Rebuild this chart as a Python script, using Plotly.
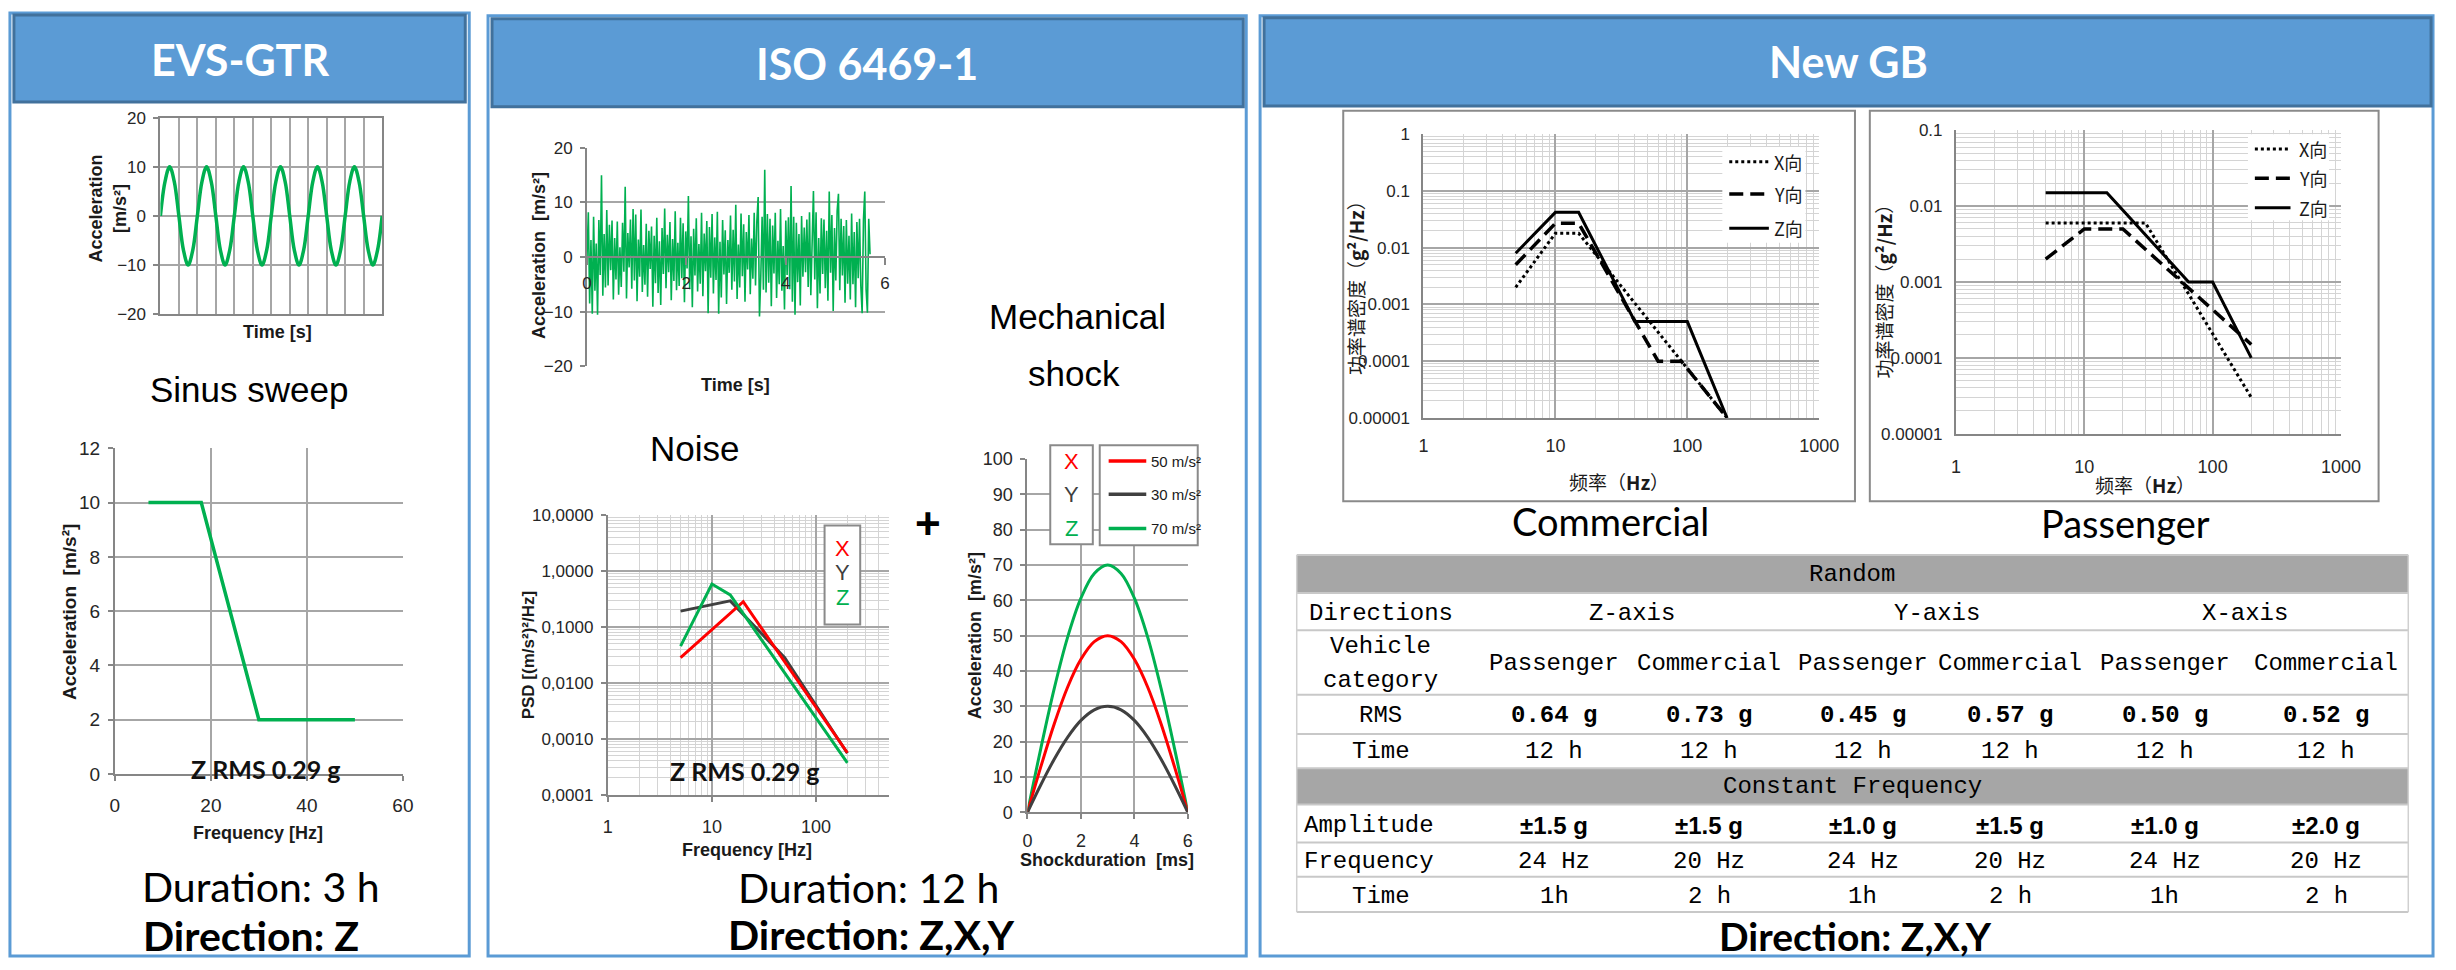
import plotly.graph_objects as go

W, H = 2456, 970


def fx(x):
    return x / W


def fy(y):
    return 1 - y / H


# ---------------- data ----------------
# EVS-GTR: sine time signal, read at eighth-period steps
sine_time = [0, 0.25, 0.5, 0.75, 1, 1.25, 1.5, 1.75, 2, 2.25, 2.5, 2.75, 3, 3.25, 3.5, 3.75,
             4, 4.25, 4.5, 4.75, 5, 5.25, 5.5, 5.75, 6, 6.25, 6.5, 6.75, 7, 7.25, 7.5, 7.75,
             8, 8.25, 8.5, 8.75, 9, 9.25, 9.5, 9.75, 10, 10.25, 10.5, 10.75, 11, 11.25, 11.5, 11.75, 12]
sine_acc = [0, 7, 10, 7, 0, -7, -10, -7, 0, 7, 10, 7, 0, -7, -10, -7,
            0, 7, 10, 7, 0, -7, -10, -7, 0, 7, 10, 7, 0, -7, -10, -7,
            0, 7, 10, 7, 0, -7, -10, -7, 0, 7, 10, 7, 0, -7, -10, -7, 0]

# EVS-GTR: sinus sweep profile
sweep_freq = [7, 18, 30, 50]
sweep_acc = [10, 10, 2, 2]

# ISO 6469-1: noise time signal
noise_acc = [
    0, 8.2, -8.5, 3.1, -10.4, 7.4, -6.2, 2.5, -10.6, 6.8, -3.3, 15.0, -7.1, 4.2, -5.6, 8.6, -5.2, 5.9, -2.4, 6.7, -7.8, 3.5, -4.1, 6.5,
    -6.9, 1.8, -5.5, 6.3, -2.7, 12.9, -7.6, 4.4, -1.9, 6.9, -5.8, 8.8, -4.3, 7.8, -8.1, 3.2, -3.6, 8.7, -6.4, 2.2, -5.1, 6.1, -7.3, 4.8,
    -2.2, 5.6, -9.1, 3.9, -4.8, 7.2, -6.6, 2.9, -8.8, 5.3, -3.1, 8.9, -5.7, 4.1, -2.8, 6.4, -7.9, 3.3, -4.4, 8.4, -6.1, 2.6, -5.3, 7.2,
    -3.9, 6.2, -8.3, 4.7, -2.1, 11.2, -5.9, 3.8, -9.2, 5.2, -3.4, 7.1, -6.3, 2.4, -4.9, 8.1, -7.2, 4.3, -2.6, 6.6, -10.3, 5.5, -3.8, 7.9,
    -6.7, 3.6, -4.2, 8.3, -10.4, 2.8, -7.4, 6.8, -3.2, 4.9, -8.6, 3.1, -2.9, 7.6, -6.0, 5.0, -4.5, 9.6, -7.7, 2.3, -5.6, 8.0, -3.5, 6.0,
    -8.2, 4.6, -2.3, 7.7, -6.8, 3.4, -4.0, 8.1, -5.2, 6.5, 11.0, -10.9, -3.7, 7.4, -6.0, 16.0, -6.5, 7.9, -4.7, 7.0, -9.0, 5.8, -3.0, 8.1,
    -7.5, 3.0, -5.0, 8.8, -6.2, 2.0, -9.6, 6.7, -3.3, 7.3, -5.9, 13.0, -8.2, 7.4, -10.6, 6.3, -4.6, 4.2, -8.9, 7.5, -3.6, 5.4, -2.8, 6.9,
    -5.5, 8.2, -7.0, 4.4, 12.1, -4.1, 8.2, -9.4, 3.5, -6.7, 7.1, -3.1, 6.9, -5.7, 4.8, -8.0, 12.0, -2.9, 7.7, -9.9, 5.3, -4.3, 8.5, 11.6,
    -6.1, 7.0, -3.4, 5.7, -8.4, 6.8, -4.9, 3.9, -7.8, 8.0, -5.0, 4.6, -9.2, 6.4, -3.9, 7.0, -5.3, -10.3, 6.9, 12.0, -6.0, -10.2, 7.0, 0.5,
]
noise_step = 5.7 / 215
noise_time = [i * noise_step for i in range(len(noise_acc))]

# ISO 6469-1: PSD profiles
psd_freq_x = [5, 20, 200]
psd_val_x = [0.028, 0.28, 0.00056]
psd_freq_y = [5, 15, 50, 200]
psd_val_y = [0.19, 0.29, 0.028, 0.00055]
psd_freq_z = [5, 10, 15, 200]
psd_val_z = [0.045, 0.58, 0.37, 0.00037]

# ISO 6469-1: mechanical shock half-sine pulses
shock_time = [0, 0.5, 1, 1.5, 2, 2.5, 3, 3.5, 4, 4.5, 5, 5.5, 6]
shock_x = [0, 12.9, 25, 35.4, 43.3, 48.3, 50, 48.3, 43.3, 35.4, 25, 12.9, 0]
shock_y = [0, 7.8, 15, 21.2, 26, 29, 30, 29, 26, 21.2, 15, 7.8, 0]
shock_z = [0, 18.1, 35, 49.5, 60.6, 67.6, 70, 67.6, 60.6, 49.5, 35, 18.1, 0]
shock_labels = ["50 m/s²", "30 m/s²", "70 m/s²"]

# New GB: commercial PSD
com_freq_x = [5, 10, 15, 200]
com_val_x = [0.002, 0.018, 0.018, 0.00001]
com_freq_y = [5, 10, 15, 60, 90, 200]
com_val_y = [0.005, 0.027, 0.027, 0.0001, 0.0001, 0.00001]
com_freq_z = [5, 10, 15, 40, 100, 200]
com_val_z = [0.008, 0.042, 0.042, 0.0005, 0.0005, 0.00001]

# New GB: passenger PSD
pas_freq_x = [5, 30, 200]
pas_val_x = [0.006, 0.006, 0.00003]
pas_freq_y = [5, 10, 20, 200]
pas_val_y = [0.002, 0.005, 0.005, 0.00015]
pas_freq_z = [5, 15, 65, 100, 200]
pas_val_z = [0.015, 0.015, 0.001, 0.001, 0.0001]

gb_legend = ["X向", "Y向", "Z向"]

# New GB: table
tbl_dirs = ["Z-axis", "Y-axis", "X-axis"]
tbl_cats = ["Passenger", "Commercial", "Passenger", "Commercial", "Passenger", "Commercial"]
tbl_rms = ["0.64 g", "0.73 g", "0.45 g", "0.57 g", "0.50 g", "0.52 g"]
tbl_rand_time = ["12 h", "12 h", "12 h", "12 h", "12 h", "12 h"]
tbl_amp = ["±1.5 g", "±1.5 g", "±1.0 g", "±1.5 g", "±1.0 g", "±2.0 g"]
tbl_freq = ["24 Hz", "20 Hz", "24 Hz", "20 Hz", "24 Hz", "20 Hz"]
tbl_cf_time = ["1h", "2 h", "1h", "2 h", "1h", "2 h"]

# ---------------- styles ----------------
GREEN = "#00B050"
RED = "#FF0000"
DARK = "#404040"
BLUE = "#5B9BD5"
BLUE_D = "#41719C"
GRID = "#A6A6A6"
GRID_MIN = "#D4D4D4"
AXIS = "#868686"
TICK = "#262626"

F_ARIAL = "Liberation Sans, Arial, sans-serif"
F_NARROW = "Liberation Sans Narrow, Arial Narrow, Liberation Sans, sans-serif"
F_CAL = "Lato, Calibri, sans-serif"
F_MONO = "Liberation Mono, Courier New, monospace"
F_CJK = "Noto Sans CJK SC, sans-serif"


def axis(x0, x1, anchor, rng, size=17, **kw):
    d = dict(domain=[x0, x1], anchor=anchor, range=rng, showgrid=True, gridcolor=GRID, gridwidth=1.5,
             zeroline=False, showline=True, linecolor=AXIS, linewidth=2, ticks="outside", ticklen=5,
             tickcolor=AXIS, tickwidth=1.5, tickfont=dict(family=F_NARROW, size=size, color=TICK),
             fixedrange=True)
    d.update(kw)
    return d


def xdom(a, b):
    return fx(a), fx(b)


def ydom(top, bottom):
    return fy(bottom), fy(top)


minor_log = dict(dtick="D1", showgrid=True, gridcolor=GRID_MIN, gridwidth=1, ticks="")

fig = go.Figure()

# ---- traces ----
fig.add_trace(go.Scatter(x=sine_time, y=sine_acc, mode="lines",
                         line=dict(color=GREEN, width=3.5, shape="spline"), xaxis="x", yaxis="y"))
fig.add_trace(go.Scatter(x=sweep_freq, y=sweep_acc, mode="lines",
                         line=dict(color=GREEN, width=3.5), xaxis="x2", yaxis="y2"))
fig.add_trace(go.Scatter(x=noise_time, y=noise_acc, mode="lines",
                         line=dict(color=GREEN, width=1.6), xaxis="x3", yaxis="y3"))
for fr, v, c in [(psd_freq_y, psd_val_y, DARK), (psd_freq_x, psd_val_x, RED), (psd_freq_z, psd_val_z, GREEN)]:
    fig.add_trace(go.Scatter(x=fr, y=v, mode="lines", line=dict(color=c, width=3), xaxis="x4", yaxis="y4"))
for v, c in [(shock_z, GREEN), (shock_x, RED), (shock_y, DARK)]:
    fig.add_trace(go.Scatter(x=shock_time, y=v, mode="lines", line=dict(color=c, width=3, shape="spline"),
                             xaxis="x5", yaxis="y5"))
DOT = "dot"
DASH = "14px,7px"
for fr, v, dsh, wd in [(com_freq_x, com_val_x, DOT, 3), (com_freq_y, com_val_y, DASH, 3.5),
                       (com_freq_z, com_val_z, "solid", 3)]:
    fig.add_trace(go.Scatter(x=fr, y=v, mode="lines", line=dict(color="black", width=wd, dash=dsh),
                             xaxis="x6", yaxis="y6"))
for fr, v, dsh, wd in [(pas_freq_x, pas_val_x, DOT, 3), (pas_freq_y, pas_val_y, DASH, 3.5),
                       (pas_freq_z, pas_val_z, "solid", 3)]:
    fig.add_trace(go.Scatter(x=fr, y=v, mode="lines", line=dict(color="black", width=wd, dash=dsh),
                             xaxis="x7", yaxis="y7"))

# ---- axes ----
lay = dict(width=W, height=H, margin=dict(l=0, r=0, t=0, b=0), paper_bgcolor="white",
           plot_bgcolor="rgba(0,0,0,0)", showlegend=False)

# 1 sine
lay["xaxis"] = axis(*xdom(157, 381), "y", [0, 12], dtick=1, showticklabels=False, ticks="", mirror=True)
lay["yaxis"] = axis(*ydom(110, 311), "x", [-20, 20], dtick=10, mirror=True, ticklabelstandoff=4)
# 2 sweep
lay["xaxis2"] = axis(*xdom(111, 402), "y2", [0, 60], size=19, dtick=20, ticklabelstandoff=8)
lay["yaxis2"] = axis(*ydom(448, 781), "x2", [0, 12], size=19, dtick=2, ticklabelstandoff=4)
# 3 noise
lay["xaxis3"] = axis(*xdom(588, 889), "free", [0, 6], dtick=2, showgrid=False, ticklen=7,
                     position=fy((141 + 364) / 2), ticklabelstandoff=4)
lay["yaxis3"] = axis(*ydom(141, 364), "x3", [-20, 20], dtick=10, ticklabelstandoff=4)
# 4 PSD
lay["xaxis4"] = axis(*xdom(609, 893), "y4", [0, 2.7], type="log", tickmode="array",
                     tickvals=[1, 10, 100], ticktext=["1", "10", "100"], minor=minor_log,
                     ticklabelstandoff=10, size=18)
lay["yaxis4"] = axis(*ydom(516, 802), "x4", [-4, 1], type="log", tickmode="array",
                     tickvals=[0.0001, 0.001, 0.01, 0.1, 1, 10],
                     ticktext=["0,0001", "0,0010", "0,0100", "0,1000", "1,0000", "10,0000"],
                     minor=minor_log, ticklabelstandoff=4)
# 5 shock
lay["xaxis5"] = axis(*xdom(1033, 1195), "y5", [0, 6], dtick=2, size=18, ticklabelstandoff=6)
lay["yaxis5"] = axis(*ydom(459, 820), "x5", [0, 100], dtick=10, size=18, ticklabelstandoff=4)
# 6 commercial
lay["xaxis6"] = axis(*xdom(1433, 1833), "y6", [0, 3], type="log", tickmode="array",
                     tickvals=[1, 10, 100, 1000], ticktext=["1", "10", "100", "1000"], minor=minor_log,
                     ticks="", ticklabelstandoff=10, size=18)
lay["yaxis6"] = axis(*ydom(127, 417), "x6", [-5, 0], type="log", tickmode="array",
                     tickvals=[0.00001, 0.0001, 0.001, 0.01, 0.1, 1],
                     ticktext=["0.00001", "0.0001", "0.001", "0.01", "0.1", "1"], minor=minor_log,
                     ticks="", ticklabelstandoff=8, size=17)
# 7 passenger
lay["xaxis7"] = axis(*xdom(1971, 2360), "y7", [0, 3], type="log", tickmode="array",
                     tickvals=[1, 10, 100, 1000], ticktext=["1", "10", "100", "1000"], minor=minor_log,
                     ticks="", ticklabelstandoff=16, size=18)
lay["yaxis7"] = axis(*ydom(123, 433), "x7", [-5, -1], type="log", tickmode="array",
                     tickvals=[0.00001, 0.0001, 0.001, 0.01, 0.1],
                     ticktext=["0.00001", "0.0001", "0.001", "0.01", "0.1"], minor=minor_log,
                     ticks="", ticklabelstandoff=8, size=17)

# ---- shapes ----
shapes = []


def rect(x0, y0, x1, y1, line=None, fill=None, width=2, layer="below"):
    return dict(type="rect", xref="paper", yref="paper", x0=fx(x0), x1=fx(x1), y0=fy(y1), y1=fy(y0),
                line=dict(color=line if line else "rgba(0,0,0,0)", width=width if line else 0),
                fillcolor=fill if fill else "rgba(0,0,0,0)", layer=layer)


def hline(x0, x1, y, color, width, dash="solid", layer="above"):
    return dict(type="line", xref="paper", yref="paper", x0=fx(x0), x1=fx(x1), y0=fy(y), y1=fy(y),
                line=dict(color=color, width=width, dash=dash), layer=layer)


# panels
shapes.append(rect(5, 3, 469, 967, line=BLUE, width=3))
shapes.append(rect(488, 6, 1254, 967, line=BLUE, width=3))
shapes.append(rect(1268, 6, 2453, 967, line=BLUE, width=3))
# headers
shapes.append(rect(9, 5, 465, 94, line=BLUE_D, fill=BLUE, width=3))
shapes.append(rect(492, 9, 1251, 99, line=BLUE_D, fill=BLUE, width=3))
shapes.append(rect(1272, 8, 2451, 98, line=BLUE_D, fill=BLUE, width=3))
# GB frames
shapes.append(rect(1352, 103, 1869, 502, line="#8A8A8A", width=2))
shapes.append(rect(1884, 103, 2398, 502, line="#8A8A8A", width=2))

# PSD legend box
shapes.append(rect(828, 527, 864, 628, line="#8A8A8A", fill="white", width=2, layer="above"))
# shock legend boxes
shapes.append(rect(1056, 445, 1099, 546, line="#8A8A8A", fill="white", width=2, layer="above"))
shapes.append(rect(1106, 445, 1205, 547, line="#8A8A8A", fill="white", width=2, layer="above"))
for yy, c in zip([461, 495, 530], [RED, DARK, GREEN]):
    shapes.append(hline(1115, 1153, yy, c, 3.5))
# GB legends
shapes.append(rect(1735, 140, 1819, 238, fill="white", layer="above"))
shapes.append(rect(2266, 127, 2348, 215, fill="white", layer="above"))
for yy, dsh, wd in zip([155, 188, 223], [DOT, DASH, "solid"], [3, 3.5, 3]):
    shapes.append(hline(1742, 1782, yy, "black", wd, dash=dsh))
for yy, dsh, wd in zip([142, 172, 202], [DOT, DASH, "solid"], [3, 3.5, 3]):
    shapes.append(hline(2273, 2309, yy, "black", wd, dash=dsh))

# table
TX0, TX1 = 1305, 2428
shapes.append(rect(TX0, 557, TX1, 596, fill="#A6A6A6"))
shapes.append(rect(TX0, 775, TX1, 812, fill="#A6A6A6"))
for yy in [557, 596, 634, 700, 740, 775, 812, 851, 886, 922]:
    shapes.append(hline(TX0, TX1, yy, "#C8C8C8", 2, layer="below"))
shapes.append(dict(type="line", xref="paper", yref="paper", x0=fx(TX0), x1=fx(TX0), y0=fy(557), y1=fy(922),
                   line=dict(color="#D0D0D0", width=1.5), layer="below"))
shapes.append(dict(type="line", xref="paper", yref="paper", x0=fx(TX1), x1=fx(TX1), y0=fy(557), y1=fy(922),
                   line=dict(color="#D0D0D0", width=1.5), layer="below"))

lay["shapes"] = shapes

# ---- annotations ----
ann = []


def txt(x, y, s, size, family=F_ARIAL, color="#000", bold=False, angle=0, xanchor="center"):
    if bold:
        s = "<b>" + s + "</b>"
    ann.append(dict(x=fx(x), y=fy(y), xref="paper", yref="paper", text=s, showarrow=False,
                    font=dict(family=family, size=size, color=color), textangle=angle,
                    xanchor=xanchor, yanchor="middle"))


# headers
txt(237, 51, "EVS-GTR", 43, F_CAL, "white", True)
txt(871, 55, "ISO 6469-1", 43, F_CAL, "white", True)
txt(1862, 53, "New GB", 43, F_CAL, "white", True)

# panel 1
txt(104, 203, "Acceleration<br>[m/s²]", 18, F_ARIAL, "#1a1a1a", True, -90)
txt(275, 329, "Time [s]", 18, F_NARROW, "#1a1a1a", True)
txt(247, 388, "Sinus sweep", 35, F_ARIAL)
txt(65, 615, "Acceleration  [m/s²]", 19, F_ARIAL, "#1a1a1a", True, -90)
txt(256, 841, "Frequency [Hz]", 18, F_NARROW, "#1a1a1a", True)
txt(263, 776, "Z RMS 0.29 g", 25, F_CAL, "#111", True)
txt(259, 896, "Duration: 3 h", 41, F_CAL)
txt(249, 946, "Direction: Z", 41, F_CAL, "#000", True)

# panel 2
txt(539, 251, "Acceleration  [m/s²]", 18, F_ARIAL, "#1a1a1a", True, -90)
txt(738, 383, "Time [s]", 18, F_NARROW, "#1a1a1a", True)
txt(697, 448, "Noise", 35, F_ARIAL)
txt(1084, 313, "Mechanical", 35, F_ARIAL)
txt(1080, 372, "shock", 35, F_ARIAL)
txt(932, 525, "+", 44, F_ARIAL, "#000", True)
txt(529, 660, "PSD [(m/s²)²/Hz]", 17, F_ARIAL, "#1a1a1a", True, -90)
for yy, s, c in zip([550, 575, 601], ["X", "Y", "Z"], [RED, DARK, GREEN]):
    txt(846, yy, s, 22, F_NARROW, c)
txt(747, 778, "Z RMS 0.29 g", 25, F_CAL, "#111", True)
txt(750, 859, "Frequency [Hz]", 18, F_NARROW, "#1a1a1a", True)
txt(980, 640, "Acceleration  [m/s²]", 18, F_ARIAL, "#1a1a1a", True, -90)
for yy, s, c in zip([461, 495, 530], ["X", "Y", "Z"], [RED, DARK, GREEN]):
    txt(1077, yy, s, 22, F_NARROW, c)
for yy, s in zip([461, 495, 530], shock_labels):
    txt(1156, yy, s, 15, F_NARROW, "#1a1a1a", xanchor="left")
txt(1113, 869, "Shockduration  [ms]", 18, F_NARROW, "#1a1a1a", True)
txt(872, 897, "Duration: 12 h", 41, F_CAL)
txt(875, 945, "Direction: Z,X,Y", 41, F_CAL, "#000", True)

# panel 3 charts
txt(1365, 279, "功率谱密度（<b>g²/Hz</b>）", 19, F_CJK, "#1a1a1a", False, -90)
txt(1631, 482, "频率（<b>Hz</b>）", 19, F_CJK, "#1a1a1a")
for yy, s in zip([155, 188, 223], gb_legend):
    txt(1785, yy, s, 18, F_CJK, "#1a1a1a", xanchor="left")
txt(1898, 283, "功率谱密度（<b>g²/Hz</b>）", 19, F_CJK, "#1a1a1a", False, -90)
txt(2162, 485, "频率（<b>Hz</b>）", 19, F_CJK, "#1a1a1a")
for yy, s in zip([142, 172, 202], gb_legend):
    txt(2316, yy, s, 18, F_CJK, "#1a1a1a", xanchor="left")
txt(1622, 522, "Commercial", 38, F_CAL)
txt(2142, 524, "Passenger", 38, F_CAL)

# table
cols = [1565, 1722, 1877, 2026, 2182, 2345]
LBL = 1390
TS = 24
txt(1866, 577, "Random", TS, F_MONO)
txt(LBL, 617, "Directions", TS, F_MONO)
for i, d in enumerate(tbl_dirs):
    txt((cols[2 * i] + cols[2 * i + 1]) / 2, 617, d, TS, F_MONO)
txt(LBL, 651, "Vehicle", TS, F_MONO)
txt(LBL, 685, "category", TS, F_MONO)
for c, s in zip(cols, tbl_cats):
    txt(c, 668, s, TS, F_MONO)
txt(LBL, 721, "RMS", TS, F_MONO)
for c, s in zip(cols, tbl_rms):
    txt(c, 721, s, TS, F_MONO, "#000", True)
txt(LBL, 758, "Time", TS, F_MONO)
for c, s in zip(cols, tbl_rand_time):
    txt(c, 758, s, TS, F_MONO)
txt(1866, 794, "Constant Frequency", TS, F_MONO)
txt(1378, 834, "Amplitude", TS, F_MONO)
for c, s in zip(cols, tbl_amp):
    txt(c, 834, s, 24, F_NARROW, "#000", True)
txt(1378, 870, "Frequency", TS, F_MONO)
for c, s in zip(cols, tbl_freq):
    txt(c, 870, s, TS, F_MONO)
txt(LBL, 906, "Time", TS, F_MONO)
for c, s in zip(cols, tbl_cf_time):
    txt(c, 906, s, TS, F_MONO)
txt(1870, 947, "Direction: Z,X,Y", 39, F_CAL, "#000", True)

lay["annotations"] = ann
fig.update_layout(**lay)
fig.write_html("out.html", config={"displayModeBar": False},
               post_script="document.body.style.margin='0px';document.body.style.overflow='hidden';")
